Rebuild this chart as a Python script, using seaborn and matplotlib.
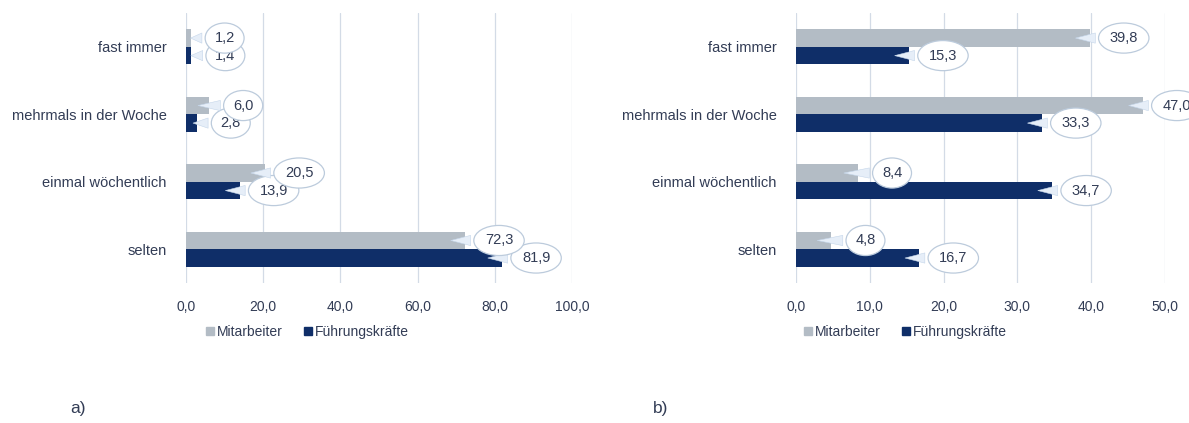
import matplotlib
matplotlib.use("Agg")
import matplotlib.pyplot as plt
import matplotlib.transforms as mtransforms
from matplotlib.lines import Line2D
import seaborn as sns
import pandas as pd

# === Data ===
categories = ["fast immer", "mehrmals in der Woche", "einmal wöchentlich", "selten"]
groups = ["Mitarbeiter", "Führungskräfte"]

mitarbeiter_a = [1.2, 6.0, 20.5, 72.3]
fuehrung_a = [1.4, 2.8, 13.9, 81.9]

mitarbeiter_b = [39.8, 47.0, 8.4, 4.8]
fuehrung_b = [15.3, 33.3, 34.7, 16.7]

xticks_a = [0, 20, 40, 60, 80, 100]
xticks_b = [0, 10, 20, 30, 40, 50]

# === Style ===
sns.set_theme(style="white")
plt.rcParams['font.family'] = ['Liberation Sans', 'DejaVu Sans']
text_col = "#323c55"
grid_col = "#d3dbe6"
palette = {"Mitarbeiter": "#b3bcc5", "Führungskräfte": "#0f2e68"}


def make_df(m, f):
    rows = []
    for c, v in zip(categories, m):
        rows.append({"Kategorie": c, "Gruppe": "Mitarbeiter", "Wert": v})
    for c, v in zip(categories, f):
        rows.append({"Kategorie": c, "Gruppe": "Führungskräfte", "Wert": v})
    return pd.DataFrame(rows)


def draw_panel(ax, df, ticks):
    sns.barplot(data=df, y="Kategorie", x="Wert", hue="Gruppe", order=categories,
                hue_order=groups, palette=palette, orient="h", width=0.52,
                saturation=1, errorbar=None, ax=ax, legend=False, zorder=2,
                linewidth=0, edgecolor="none")
    ax.set_xlim(ticks[0], ticks[-1])
    ax.set_ylim(3.5, -0.5)
    ax.set_xticks(ticks)
    ax.set_xticklabels([f"{t:.1f}".replace(".", ",") for t in ticks],
                       color=text_col, fontsize=10)
    ax.tick_params(axis="y", labelsize=10.5, labelcolor=text_col, length=0, pad=14)
    ax.tick_params(axis="x", length=0, pad=12)
    ax.set_xlabel("")
    ax.set_ylabel("")
    for s in ax.spines.values():
        s.set_visible(False)
    for t in ticks:
        ax.axvline(t, color=grid_col, lw=0.9, zorder=0)

    # callout labels (Mitarbeiter labels on top where they overlap)
    px_per_unit = ax.bbox.width / (ticks[-1] - ticks[0])
    for i, cont in enumerate(ax.containers):
        for bar in cont:
            v = bar.get_width()
            y = bar.get_y() + bar.get_height() / 2
            back = min(17, v * px_per_unit * 0.6) * 72 / 100
            tip = ax.transData + mtransforms.ScaledTranslation(-back / 72, 0,
                                                                ax.figure.dpi_scale_trans)
            ax.annotate(f"{v:.1f}".replace(".", ","), xy=(v, y), xycoords=tip,
                        xytext=(v, y), textcoords=mtransforms.offset_copy(
                            ax.transData, fig=ax.figure, x=24.5, y=0, units="points"),
                        ha="center", va="center", fontsize=10.5, color=text_col,
                        annotation_clip=False, zorder=6 - i,
                        bbox=dict(boxstyle="ellipse,pad=0.25", fc="white",
                                  ec="#bccbdc", lw=0.9),
                        arrowprops=dict(arrowstyle="wedge,tail_width=0.7,shrink_factor=0.5",
                                        fc="#e6eef8", ec="#c5d6ea", lw=0.4))


fig = plt.figure(figsize=(11.89, 4.23), dpi=100)
ax_a = fig.add_axes([0.1564, 0.331, 0.3246, 0.638])
ax_b = fig.add_axes([0.6695, 0.331, 0.3103, 0.638])

draw_panel(ax_a, make_df(mitarbeiter_a, fuehrung_a), xticks_a)
draw_panel(ax_b, make_df(mitarbeiter_b, fuehrung_b), xticks_b)

# legends
handles = [Line2D([], [], marker="s", ls="", color=palette[g], markersize=6) for g in groups]
for cx in [307 / 1189, 905 / 1189]:
    fig.legend(handles, groups, loc="center", bbox_to_anchor=(cx, 1 - 332 / 423),
               ncol=2, frameon=False, fontsize=10, labelcolor=text_col,
               handlelength=0.6, handletextpad=0.2, columnspacing=1.5)

fig.text(70 / 1189, 1 - 408 / 423, "a)", fontsize=12.5, color=text_col, va="center")
fig.text(653 / 1189, 1 - 408 / 423, "b)", fontsize=12.5, color=text_col, va="center")

fig.savefig("out.png", dpi=100)
